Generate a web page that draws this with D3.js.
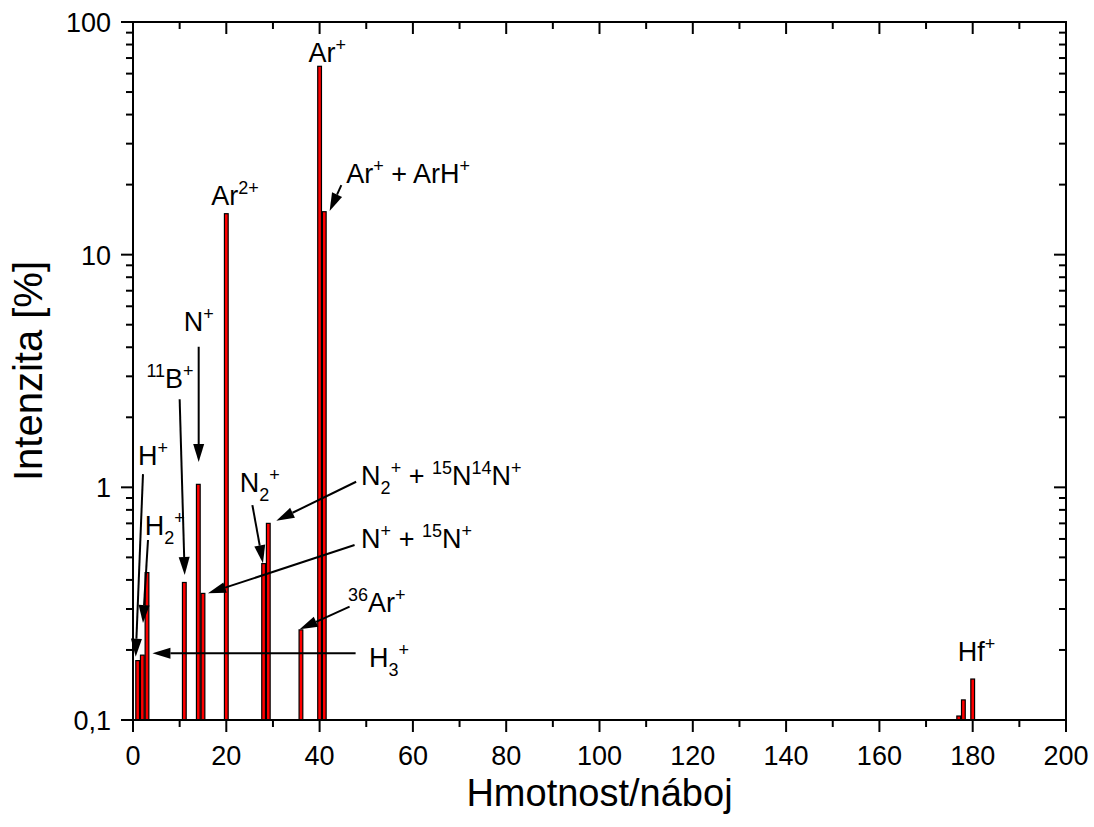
<!DOCTYPE html>
<html><head><meta charset="utf-8">
<script src="https://cdn.jsdelivr.net/npm/d3@7"></script>
<style>
html,body{margin:0;padding:0;background:#fff;}
text{font-family:Arial,"Liberation Sans",sans-serif;fill:#000;}
</style></head>
<body>
<svg id="chart" width="1094" height="827"></svg>
<script>
// ---- data ----
const masses = [1, 2, 3, 11, 14, 15, 20, 28, 29, 36, 40, 41, 177, 178, 180];
const intensities = [0.18, 0.19, 0.43, 0.39, 1.03, 0.35, 15.0, 0.47, 0.70, 0.244, 64.5, 15.3, 0.104, 0.122, 0.15];
const xTicks = [0, 20, 40, 60, 80, 100, 120, 140, 160, 180, 200];
const yTicks = [0.1, 1, 10, 100];
const yTickLabels = ["0,1", "1", "10", "100"];
const xTitle = "Hmotnost/náboj";
const yTitle = "Intenzita [%]";

// annotation labels: segments (n = normal, sup, sub); anchor in data coords
const labelTexts = [
  [["n","Ar"],["sup","+"]],
  [["n","Ar"],["sup","+"],["n"," + ArH"],["sup","+"]],
  [["n","Ar"],["sup","2+"]],
  [["n","N"],["sup","+"]],
  [["sup","11"],["n","B"],["sup","+"]],
  [["n","H"],["sup","+"]],
  [["n","H"],["sub","2"],["sup","+"]],
  [["n","H"],["sub","3"],["sup","+"]],
  [["n","N"],["sub","2"],["sup","+"]],
  [["n","N"],["sub","2"],["sup","+"],["n"," + "],["sup","15"],["n","N"],["sup","14"],["n","N"],["sup","+"]],
  [["n","N"],["sup","+"],["n"," + "],["sup","15"],["n","N"],["sup","+"]],
  [["sup","36"],["n","Ar"],["sup","+"]],
  [["n","Hf"],["sup","+"]]
];
const labelX = [37.6, 45.7, 16.8, 10.9, 2.87, 1.07, 2.5, 50.6, 22.9, 48.9, 48.9, 46.1, 176.8];
const labelY = [67.3, 20.3, 16.3, 4.71, 2.665, 1.247, 0.624, 0.1694, 0.957, 1.023, 0.547, 0.292, 0.1798];
// arrows: [x0, y0, x1, y1] in data coords (tip at x1,y1)
const arrows = [
  [44.66, 19.9, 42.15, 15.4],
  [14.08, 4.02, 14.08, 1.285],
  [10.0, 2.39, 11.08, 0.42],
  [2.14, 1.14, 0.58, 0.187],
  [3.21, 0.594, 2.14, 0.261],
  [47.72, 0.1935, 4.16, 0.1935],
  [25.59, 0.839, 27.86, 0.4716],
  [47.83, 1.057, 30.73, 0.719],
  [47.5, 0.565, 16.07, 0.3505],
  [46.43, 0.307, 35.72, 0.2455]
];

// ---- layout ----
const m = {left: 133, right: 1066, top: 22, bottom: 720};
const svg = d3.select("#chart");
const x = d3.scaleLinear().domain([0, 200]).range([m.left, m.right]);
const y = d3.scaleLog().domain([0.1, 100]).range([m.bottom, m.top]);

const minorX = d3.range(10, 200, 20);
const minorY = [];
[0.1, 1, 10].forEach(d => { for (let k = 2; k <= 9; k++) minorY.push(d * k); });

const g = svg.append("g");

// bars
const bw = (x(1) - x(0)) * 0.8;
g.append("g").selectAll("rect").data(masses).join("rect")
  .attr("x", (d) => x(d) - bw / 2)
  .attr("width", bw)
  .attr("y", (d, i) => y(intensities[i]))
  .attr("height", (d, i) => y(0.1) - y(intensities[i]))
  .attr("fill", "#ff0000")
  .attr("stroke", "#000")
  .attr("stroke-width", 1.2);

// arrows
const ag = g.append("g");
arrows.forEach(a => {
  const x0 = x(a[0]), y0 = y(a[1]), x1 = x(a[2]), y1 = y(a[3]);
  const dx = x1 - x0, dy = y1 - y0, L = Math.hypot(dx, dy);
  const ux = dx / L, uy = dy / L;
  const hl = 18, hw = 5.5;
  const bx = x1 - ux * hl, by = y1 - uy * hl;
  ag.append("line").attr("x1", x0).attr("y1", y0).attr("x2", bx).attr("y2", by)
    .attr("stroke", "#000").attr("stroke-width", 2);
  ag.append("path")
    .attr("d", `M${x1},${y1}L${bx - uy * hw},${by + ux * hw}L${bx + uy * hw},${by - ux * hw}Z`)
    .attr("fill", "#000");
});

// labels
const lg = g.append("g");
labelTexts.forEach((segs, i) => {
  const t = lg.append("text").attr("x", x(labelX[i])).attr("y", y(labelY[i]))
    .attr("font-size", 27);
  let off = 0;
  segs.forEach(([kind, str]) => {
    let target = 0, fs = 27;
    if (kind === "sup") { target = -11; fs = 18; }
    if (kind === "sub") { target = 9; fs = 18; }
    t.append("tspan").attr("dy", target - off).attr("font-size", fs)
      .style("white-space", "pre").text(str);
    off = target;
  });
});

// axes
const axG = g.append("g");
axG.append("rect").attr("x", m.left).attr("y", m.top)
  .attr("width", m.right - m.left).attr("height", m.bottom - m.top)
  .attr("fill", "none").attr("stroke", "#000").attr("stroke-width", 2);

const tickStyle = sel => sel.attr("stroke", "#000").attr("stroke-width", 2);
xTicks.forEach(v => {
  tickStyle(axG.append("line").attr("x1", x(v)).attr("x2", x(v)).attr("y1", m.bottom).attr("y2", m.bottom + 12));
  tickStyle(axG.append("line").attr("x1", x(v)).attr("x2", x(v)).attr("y1", m.top).attr("y2", m.top + 12));
});
minorX.forEach(v => {
  tickStyle(axG.append("line").attr("x1", x(v)).attr("x2", x(v)).attr("y1", m.bottom).attr("y2", m.bottom + 7));
  tickStyle(axG.append("line").attr("x1", x(v)).attr("x2", x(v)).attr("y1", m.top).attr("y2", m.top + 7));
});
yTicks.forEach(v => {
  tickStyle(axG.append("line").attr("y1", y(v)).attr("y2", y(v)).attr("x1", m.left).attr("x2", m.left - 12));
  tickStyle(axG.append("line").attr("y1", y(v)).attr("y2", y(v)).attr("x1", m.right).attr("x2", m.right - 12));
});
minorY.forEach(v => {
  tickStyle(axG.append("line").attr("y1", y(v)).attr("y2", y(v)).attr("x1", m.left).attr("x2", m.left - 7));
  tickStyle(axG.append("line").attr("y1", y(v)).attr("y2", y(v)).attr("x1", m.right).attr("x2", m.right - 7));
});

// tick labels
axG.selectAll("text.xt").data(xTicks).join("text").attr("class", "xt")
  .attr("x", d => x(d)).attr("y", m.bottom + 45).attr("text-anchor", "middle")
  .attr("font-size", 27).text(d => d);
axG.selectAll("text.yt").data(yTicks).join("text").attr("class", "yt")
  .attr("x", m.left - 22).attr("y", d => y(d) + 10).attr("text-anchor", "end")
  .attr("font-size", 27).text((d, i) => yTickLabels[i]);

// titles
svg.append("text").attr("x", (m.left + m.right) / 2).attr("y", 806)
  .attr("text-anchor", "middle").attr("font-size", 38).text(xTitle);
svg.append("text").attr("transform", `translate(42,${(m.top + m.bottom) / 2}) rotate(-90)`)
  .attr("text-anchor", "middle").attr("font-size", 40).text(yTitle);
</script>
</body></html>
